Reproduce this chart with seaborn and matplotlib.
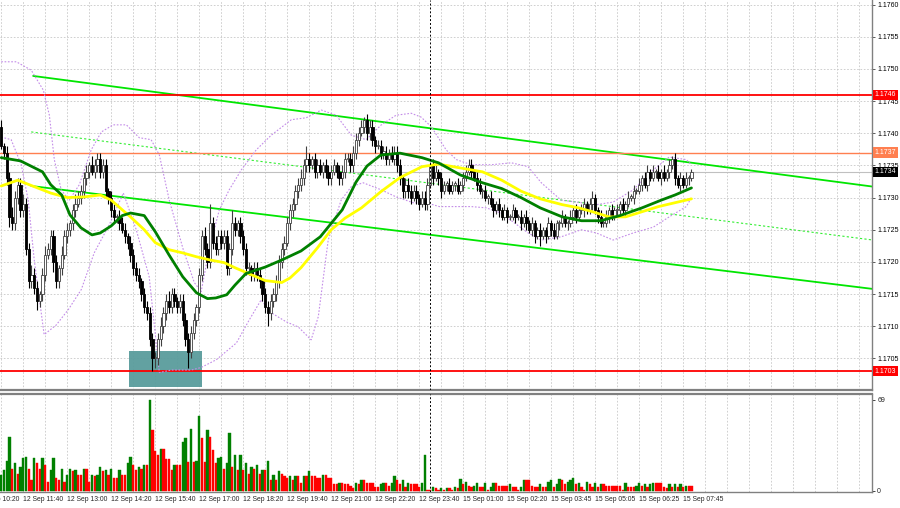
import numpy as np
import pandas as pd
import matplotlib
matplotlib.use("Agg")
import matplotlib.pyplot as plt
import seaborn as sns
from matplotlib.transforms import blended_transform_factory
from matplotlib.patches import Rectangle

# ---------------- data ----------------
PIP = 0.0001
first_open = 1.1741
closes = [
    1.1738, 1.1737, 1.1733, 1.1727, 1.1726, 1.1730, 1.1732, 1.1728, 1.1729, 1.1722,
    1.1717, 1.1718, 1.1716, 1.1714, 1.1715, 1.1718, 1.1721, 1.1722, 1.1724, 1.1720,
    1.1717, 1.1719, 1.1721, 1.1724, 1.1725, 1.1726, 1.1728, 1.1729, 1.1730, 1.1731,
    1.1733, 1.1734, 1.1735, 1.1734, 1.1735, 1.1736, 1.1734, 1.1735, 1.1731, 1.1730,
    1.1728, 1.1727, 1.1727, 1.1726, 1.1725, 1.1724, 1.1723, 1.1721, 1.1719, 1.1718,
    1.1717, 1.1715, 1.1713, 1.1712, 1.1708, 1.1705, 1.1705, 1.1708, 1.1710, 1.1712,
    1.1714, 1.1713, 1.1715, 1.1714, 1.1713, 1.1714, 1.1711, 1.1708, 1.1706, 1.1709,
    1.1711, 1.1713, 1.1718, 1.1724, 1.1722, 1.1720, 1.1726, 1.1723, 1.1722, 1.1724,
    1.1723, 1.1724, 1.1719, 1.1722, 1.1726, 1.1725, 1.1726, 1.1724, 1.1722, 1.1719,
    1.1719, 1.1718, 1.1719, 1.1718, 1.1717, 1.1715, 1.1713, 1.1712, 1.1714, 1.1715,
    1.1717, 1.1720, 1.1722, 1.1723, 1.1726, 1.1728, 1.1729, 1.1731, 1.1732, 1.1733,
    1.1735, 1.1736, 1.1735, 1.1736, 1.1734, 1.1735, 1.1734, 1.1735, 1.1734, 1.1733,
    1.1734, 1.1735, 1.1734, 1.1733, 1.1734, 1.1736, 1.1736, 1.1735, 1.1737, 1.1739,
    1.1740, 1.1741, 1.1742, 1.1740, 1.1741, 1.1739, 1.1738, 1.1738, 1.1737, 1.1737,
    1.1736, 1.1737, 1.1736, 1.1737, 1.1735, 1.1733, 1.1731, 1.1732, 1.1731, 1.1730,
    1.1731, 1.1730, 1.1729, 1.1730, 1.1729, 1.1732, 1.1735, 1.1733, 1.1734, 1.1733,
    1.1731, 1.1732, 1.1732, 1.1731, 1.1732, 1.1732, 1.1731, 1.1732, 1.1733, 1.1734,
    1.1735, 1.1734, 1.1733, 1.1732, 1.1731, 1.1731, 1.1730, 1.1730, 1.1729, 1.1728,
    1.1729, 1.1728, 1.1727, 1.1728, 1.1727, 1.1727, 1.1728, 1.1727, 1.1727, 1.1726,
    1.1727, 1.1726, 1.1725, 1.1726, 1.1724, 1.1725, 1.1724, 1.1725, 1.1724, 1.1726,
    1.1725, 1.1724, 1.1726, 1.1726, 1.1727, 1.1726, 1.1726, 1.1727, 1.1728, 1.1727,
    1.1728, 1.1728, 1.1729, 1.1728, 1.1729, 1.1730, 1.1728, 1.1727, 1.1726, 1.1726,
    1.1727, 1.1728, 1.1727, 1.1728, 1.1728, 1.1729, 1.1728, 1.1729, 1.1730, 1.1730,
    1.1731, 1.1731, 1.1732, 1.1733, 1.1732, 1.1734, 1.1733, 1.1734, 1.1734, 1.1733,
    1.1734, 1.1733, 1.1734, 1.1735, 1.1736, 1.1733, 1.1732, 1.1733, 1.1732, 1.1733,
    1.1733, 1.1734,
]
upper_wick_pips = [
    1, .5, 1, 1, 1.5, 1, 1, 1, 1.5, 1,
    1, 1.5, 1, 1, .5, 1, 1.5, 1, 1, 1,
    1, .5, 1.5, 1, 1, .5, 1, 1.5, 1, 1,
    1, 1, .5, 1.5, 1, 1, 1, 1, 1, .5,
    1, 1, .5, 1, 1, 1, .5, 1, 1, 1,
    1, .5, 1, 1, 1, 1, 1, 1, 1.5, 1,
    1, 1.5, 1, 1, .5, 1, 1, 1, 1, 1,
    1, .5, 1, 1, 1.5, 1, 3, 1, 1, 1,
    1, 1, 1, 1, 2, 1, .5, 1, 1, 1,
    1, .5, 1, 1, 1, .5, 1, 1, 1, 1,
    1, 1, 1, 1, 1, 1, 1, 1, 1, 1.5,
    1, 2, 1, .5, 1, 1, 1, .5, 1, 1,
    1, 1, .5, 1, 1, 1, 1, 1, 1, 1,
    1, 1, .5, 1, 1, 1, .5, 1, 1, 1,
    1, .5, 1, 1, 1, 1, .5, 1, 1, 1,
    1, 1, .5, 1, 1, 1, .5, 1, 1, .5,
    1, .5, .5, 1, .5, .5, 1, .5, 1, 1,
    1, 1, .5, 1, 1, .5, 1, .5, 1, 1,
    .5, 1, .5, 1, .5, .5, 1, .5, .5, 1,
    .5, 1, .5, 1, .5, .5, 1, .5, .5, 1,
    .5, 1, .5, .5, 1, .5, .5, 1, .5, 1,
    .5, 1, 1, .5, 1, 1, .5, .5, 1, .5,
    1, .5, 1, .5, 1, .5, 1, .5, 1, .5,
    1, .5, 1, .5, 1, 1, .5, 1, .5, 1,
    .5, 1, .5, 1, .5, 1, .5, 1, .5, 1,
    .5, .5,
]
lower_wick_pips = [
    .5, 1, 1, 1.5, 1, 1, 1, 1, 1, 1,
    1, 1, 1, 1.5, 1, 1, 1, .5, 1, 1.5,
    1, 1, 1, .5, 1, 1, 1, 1, .5, 1,
    1, 1, 1, .5, 1, 1, 1, 1, 1, 1,
    1, 1, 1, 1, .5, 1, 1, 1, 1, 1,
    1, 1, 1, 1, 1, 2, 1.5, 1, 1, 1,
    1, 1, 1, 1, 1, 1, 1, 1, 2.5, 1,
    1, 1, 1, 1, 1, 1, 1, 1, 1, 1,
    1, 1, 1, 1, 1, 1, 1, 1, 1, 1,
    1, 1, 1, 1, 1, 1, 1, 2, 1, 1,
    1, 1, 1, 1, .5, 1, 1, 1, 1, 1,
    1, 1, 1, .5, 1, 1, .5, 1, 1, 1,
    1, .5, 1, 1, 1, 1, .5, 1, 1, 1,
    1, .5, 1, 1, 1, 1, 1, .5, 1, 1,
    1, 1, .5, 1, 1, 1, 1, 1, 1, 1,
    .5, 1, 1, .5, 1, 1, .5, 1, .5, 1,
    1, .5, 1, .5, .5, 1, .5, .5, 1, .5,
    .5, 1, .5, 1, .5, 1, .5, 1, .5, 1,
    .5, 1, .5, .5, 1, .5, .5, 1, .5, 1,
    .5, 1, .5, 1, 1, .5, 1.5, .5, 1, .5,
    1, .5, .5, 1, .5, .5, 1, .5, .5, 1,
    .5, .5, 1, .5, .5, 1, .5, 1, .5, .5,
    .5, 1, .5, .5, 1, .5, .5, 1, .5, .5,
    1, .5, .5, 1, .5, 1, .5, .5, 1, .5,
    1, .5, .5, 1, .5, 1, .5, 1, .5, .5,
    1, .5,
]
volumes = [
    12, 16, 23, 41, 17, 21, 13, 18, 25, 26, 17, 8, 25, 21, 17, 25, 20, 7, 16, 25,
    10, 8, 17, 7, 12, 17, 15, 16, 12, 12, 17, 17, 7, 12, 11, 12, 18, 15, 16, 12,
    17, 10, 10, 16, 12, 12, 21, 26, 20, 16, 18, 17, 20, 20, 69, 46, 30, 27, 32, 32,
    24, 24, 16, 20, 20, 20, 37, 40, 22, 47, 22, 23, 57, 40, 22, 46, 41, 31, 21, 25,
    26, 17, 21, 44, 18, 27, 16, 27, 16, 21, 13, 18, 17, 20, 13, 16, 16, 23, 8, 12,
    8, 15, 13, 11, 10, 11, 8, 11, 11, 6, 11, 11, 15, 11, 11, 10, 10, 12, 12, 10,
    10, 5, 5, 6, 6, 5, 5, 4, 2, 6, 5, 8, 8, 6, 6, 6, 3, 3, 5, 6,
    6, 4, 6, 11, 8, 5, 8, 3, 6, 5, 5, 5, 3, 6, 27, 1, 1, 3, 2, 1,
    2, 1, 2,
    2, 1, 3, 2, 9, 5, 7, 4, 3, 4, 6, 3, 3, 6, 1, 3, 6, 6, 4, 4,
    4, 4, 5, 3, 3, 1, 3, 8, 8, 8, 4, 3, 3, 5, 3, 3, 7, 8, 3, 5,
    9, 8, 5, 7, 8, 10, 5, 6, 3, 1, 7, 5, 3, 6, 3, 5, 5, 4, 4, 4,
    4, 4, 4, 1, 6, 3, 3, 3, 4, 6, 4, 5, 3, 5, 6, 6, 6, 6, 3, 2,
    5, 3, 5, 3, 5, 3, 4, 4, 4,
]

# moving averages (green = 30, yellow = 50) read as (bar, price)
ma_green_bar = [0, 7, 15, 18, 22, 25, 29, 33, 36, 40, 44, 47, 52, 56, 61, 66, 71, 75, 78, 82,
                85, 89, 96, 102, 109, 116, 124, 129, 133, 138, 145, 153, 159, 167, 175, 182,
                189, 196, 204, 211, 218, 225, 233, 240, 245, 251]
ma_green_px = [1.17362, 1.17357, 1.17340, 1.17320, 1.17304, 1.17273, 1.17253, 1.17242, 1.17245,
               1.17256, 1.17272, 1.17276, 1.17272, 1.17247, 1.17211, 1.17177, 1.17152, 1.17143,
               1.17144, 1.17149, 1.17164, 1.17182, 1.17192, 1.17203, 1.17217, 1.17239, 1.17281,
               1.17324, 1.17349, 1.17366, 1.17369, 1.17362, 1.17354, 1.17335, 1.17323, 1.17314,
               1.17300, 1.17284, 1.17270, 1.17264, 1.17264, 1.17272, 1.17284, 1.17296, 1.17304,
               1.17315]
ma_yellow_bar = [0, 6, 12, 18, 24, 30, 36, 40, 44, 47, 52, 56, 61, 66, 71, 76, 81, 85, 91, 96,
                 102, 105, 109, 115, 120, 125, 131, 138, 145, 153, 159, 167, 175, 182, 189, 196,
                 204, 210, 215, 221, 227, 233, 239, 245, 251]
ma_yellow_px = [1.17318, 1.17327, 1.17317, 1.17307, 1.17300, 1.17301, 1.17304, 1.17296, 1.17281,
                1.17270, 1.17250, 1.17230, 1.17219, 1.17214, 1.17208, 1.17203, 1.17199, 1.17191,
                1.17180, 1.17171, 1.17168, 1.17175, 1.17191, 1.17222, 1.17250, 1.17268, 1.17284,
                1.17309, 1.17331, 1.17348, 1.17352, 1.17346, 1.17340, 1.17327, 1.17310, 1.17298,
                1.17289, 1.17284, 1.17278, 1.17270, 1.17270, 1.17278, 1.17286, 1.17292, 1.17298]

# Bollinger bands (bar, price)
bb_up_bar = [0, 5.5, 10.9, 15.3, 17.5, 19.3, 21.8, 24.7, 28.4, 32.7, 36.4, 40.7, 45.5, 50.2, 54.5,
             57.5, 61.1, 66.2, 70.2, 72.7, 75.6, 79.3, 82.9, 87.3, 92.7, 98.2, 105.5, 110.9, 116.4,
             121.8, 127.3, 132.7, 138.2, 143.6, 149.1, 152.7, 156.4, 161.8, 165.5, 170.9, 178.2,
             185.5, 191.6, 196.4, 203.6, 210.9, 216.4, 222.5, 229.8, 237.1, 242.9, 249.1, 251]
bb_up_px = [1.17511, 1.17511, 1.17498, 1.17467, 1.17428, 1.17359, 1.17312, 1.17296, 1.17320,
            1.17374, 1.17402, 1.17413, 1.17413, 1.17393, 1.17390, 1.17366, 1.17296, 1.17219,
            1.17168, 1.17154, 1.17219, 1.17281, 1.17312, 1.17343, 1.17374, 1.17397, 1.17421,
            1.17424, 1.17436, 1.17428, 1.17397, 1.17390, 1.17413, 1.17428, 1.17431, 1.17425,
            1.17410, 1.17374, 1.17359, 1.17351, 1.17351, 1.17354, 1.17348, 1.17323, 1.17296,
            1.17292, 1.17289, 1.17293, 1.17312, 1.17343, 1.17363, 1.17359, 1.17351]
bb_lo_bar = [0, 3.6, 7.3, 9.8, 12, 15.6, 20, 24.4, 29.1, 33.8, 39.3, 44.4, 49.1, 53.8, 57.5,
             61.8, 69.1, 72.7, 78.2, 85.5, 90.2, 94.5, 98.2, 103.6, 108, 112.7, 115.3, 118.9,
             123.6, 127.3, 131.6, 138.2, 143.6, 149.8, 154.5, 159.3, 165.5, 170.9, 176.4, 181.8,
             186.5, 191.6, 196.4, 203.6, 210.9, 216.4, 222.5, 229.8, 237.1, 242.9, 249.1, 251]
bb_lo_px = [1.17394, 1.17390, 1.17351, 1.17296, 1.17203, 1.17087, 1.17102, 1.17126, 1.17157,
            1.17214, 1.17258, 1.17307, 1.17250, 1.17177, 1.17028, 1.17032, 1.17032, 1.17036,
            1.17048, 1.17074, 1.17110, 1.17141, 1.17121, 1.17107, 1.17099, 1.17079, 1.17115,
            1.17234, 1.17296, 1.17317, 1.17323, 1.17312, 1.17301, 1.17292, 1.17292, 1.17286,
            1.17286, 1.17286, 1.17284, 1.17276, 1.17261, 1.17245, 1.17234, 1.17239, 1.17250,
            1.17245, 1.17234, 1.17245, 1.17254, 1.17270, 1.17286, 1.17300]

# trend lines: (bar, price) anchors; they run to the right edge
trend_upper = [(11.6, 1.17489), (317.0, 1.17317)]
trend_lower = [(10.9, 1.17318), (317.0, 1.17158)]
trend_mid = [(10.9, 1.17402), (317.0, 1.17234)]

levels = {"1.1746": (1.1746, "#ff0000"), "1.1737": (1.1737, "#ff7f50"), "1.1703": (1.1703, "#ff0000")}
bid_price = 1.1734
box_bars = (46.5, 73.0)
box_prices = (1.17005, 1.17062)
separator_bar = 156

time_label_bars = [-8, 8, 24, 40, 56, 72, 88, 104, 120, 136, 152, 168, 184, 200, 216, 232, 248]
time_labels = ["12 Sep 10:20", "12 Sep 11:40", "12 Sep 13:00", "12 Sep 14:20", "12 Sep 15:40",
               "12 Sep 17:00", "12 Sep 18:20", "12 Sep 19:40", "12 Sep 21:00", "12 Sep 22:20",
               "12 Sep 23:40", "15 Sep 01:00", "15 Sep 02:20", "15 Sep 03:45", "15 Sep 05:05",
               "15 Sep 06:25", "15 Sep 07:45"]
price_ticks = [1.1705, 1.1710, 1.1715, 1.1720, 1.1725, 1.1730, 1.1735, 1.1740, 1.1745,
               1.1750, 1.1755, 1.1760]
vol_ticks = [0, 69]

# ---------------- frame ----------------
n = len(closes)
bars = np.arange(n)
c = np.array(closes)
o = np.concatenate([[first_open], c[:-1]])
hi = np.maximum(o, c) + np.array(upper_wick_pips) * PIP
lo = np.minimum(o, c) - np.array(lower_wick_pips) * PIP
df = pd.DataFrame({"bar": bars, "open": o, "close": c, "high": hi, "low": lo,
                   "volume": volumes[:n]})
df["up"] = df["close"] >= df["open"]
vprev = df["volume"].shift(1)
df["vcol"] = np.where(df["volume"] > vprev.fillna(-1), "#008000", "#ff0000")

sns.set_style("white")
plt.rcParams["font.family"] = ["Liberation Sans", "DejaVu Sans"]

fig = plt.figure(figsize=(9, 5.08), dpi=100)
ax = fig.add_axes([0, 0.2323, 0.9689, 0.7677])
axv = fig.add_axes([0, 0.0315, 0.9689, 0.1929])

XMIN, XMAX = -0.45, 316.65
GRID = dict(color="#c8c8c8", lw=0.6, ls=(0, (2, 2)), zorder=0)

# grid
for gx in range(0, 317, 8):
    ax.axvline(gx, **GRID)
    axv.axvline(gx, **GRID)
for p in price_ticks:
    ax.axhline(p, **GRID)

# box
ax.add_patch(Rectangle((box_bars[0], box_prices[0]), box_bars[1] - box_bars[0],
                       box_prices[1] - box_prices[0], facecolor="#5a9c9c", edgecolor="none",
                       alpha=0.95, zorder=1.5))

# trend lines
for (a, b), col, ls, lw in [(trend_upper, "#00e600", "-", 1.3), (trend_lower, "#00e600", "-", 1.3),
                            (trend_mid, "#33ee33", (0, (2, 2)), 0.8)]:
    sns.lineplot(x=[a[0], b[0]], y=[a[1], b[1]], ax=ax, color=col, lw=lw, linestyle=ls, zorder=2)

# horizontal levels
ax.axhline(bid_price, color="#c0c0c0", lw=0.8, zorder=1.8)
for lab, (p, col) in levels.items():
    ax.axhline(p, color=col, lw=1.3 if col == "#ff0000" else 1.0, zorder=2.2)

# bollinger & MAs
sns.lineplot(x=bb_up_bar, y=bb_up_px, ax=ax, color="#c38ce8", lw=0.8, linestyle=(0, (1.5, 1.5)),
             estimator=None, sort=False, zorder=2.5)
sns.lineplot(x=bb_lo_bar, y=bb_lo_px, ax=ax, color="#c38ce8", lw=0.8, linestyle=(0, (1.5, 1.5)),
             estimator=None, sort=False, zorder=2.5)
sns.lineplot(x=ma_yellow_bar, y=ma_yellow_px, ax=ax, color="#ffff00", lw=2.0,
             estimator=None, sort=False, zorder=4)
sns.lineplot(x=ma_green_bar, y=ma_green_px, ax=ax, color="#008000", lw=2.0,
             estimator=None, sort=False, zorder=4.1)

# candles
up = df[df["up"]]
dn = df[~df["up"]]
ax.vlines(up["bar"], up["low"], up["high"], color="#404040", lw=0.8, zorder=3)
ax.vlines(dn["bar"], dn["low"], dn["high"], color="#000000", lw=0.8, zorder=3)
body_min = 0.2 * PIP
ax.bar(up["bar"], np.maximum(up["close"] - up["open"], body_min), bottom=up["open"], width=0.8,
       facecolor="white", edgecolor="#404040", lw=0.6, zorder=3.2)
ax.bar(dn["bar"], np.maximum(dn["open"] - dn["close"], body_min), bottom=dn["close"], width=0.8,
       facecolor="black", edgecolor="black", lw=0.6, zorder=3.2)

# separator
for a in (ax, axv):
    a.axvline(separator_bar, color="#000000", lw=0.7, ls=(0, (2, 2)), zorder=5)

# volumes
axv.bar(df["bar"], df["volume"], width=0.78, color=df["vcol"], edgecolor=df["vcol"],
        lw=0.3, zorder=3)

# axes styling
ax.set_xlim(XMIN, XMAX)
axv.set_xlim(XMIN, XMAX)
ax.set_ylim(1.17001, 1.17607)
axv.set_ylim(-0.8, 73.5)
for a in (ax, axv):
    for s in ("left", "top"):
        a.spines[s].set_visible(False)
    a.spines["right"].set_color("#808080")
    a.spines["right"].set_linewidth(1.0)
    a.set_xlabel("")
    a.set_ylabel("")
ax.spines["bottom"].set_color("#808080")
ax.spines["bottom"].set_linewidth(1.6)
axv.spines["top"].set_visible(True)
axv.spines["top"].set_color("#808080")
axv.spines["top"].set_linewidth(1.6)
axv.spines["bottom"].set_color("#808080")
axv.spines["bottom"].set_linewidth(1.0)

FS = 5.0
ax.yaxis.tick_right()
ax.set_yticks(price_ticks)
ax.set_yticklabels([f"{p:.4f}" for p in price_ticks])
ax.tick_params(axis="y", direction="out", length=2.5, width=0.6, color="#404040",
               labelsize=FS, pad=1.2, labelcolor="#000000")
ax.set_xticks([])
axv.yaxis.tick_right()
axv.set_yticks(vol_ticks)
axv.set_yticklabels([str(v) for v in vol_ticks])
axv.tick_params(axis="y", direction="out", length=2.5, width=0.6, labelsize=FS, pad=1.2)
vis = [b for b in time_label_bars if b >= XMIN]
axv.set_xticks(vis)
axv.set_xticklabels([])
axv.tick_params(axis="x", direction="out", length=3, width=0.6, color="#404040")
for b, lab in zip(time_label_bars, time_labels):
    axv.text(b, -0.045, lab, transform=blended_transform_factory(axv.transData, axv.transAxes),
             ha="left", va="top", fontsize=4.9, clip_on=False)

# price label boxes on the right axis
tr = blended_transform_factory(ax.transAxes, ax.transData)
for lab, (p, col) in levels.items():
    ax.text(1.003, p, lab, transform=tr, ha="left", va="center", fontsize=FS, color="white",
            clip_on=False, zorder=10,
            bbox=dict(boxstyle="square,pad=0.22", fc=col, ec="none"))
ax.text(1.003, bid_price, f"{bid_price:.4f}", transform=tr, ha="left", va="center", fontsize=FS,
        color="white", clip_on=False, zorder=10,
        bbox=dict(boxstyle="square,pad=0.22", fc="black", ec="none"))

fig.savefig("out.png", dpi=100)
